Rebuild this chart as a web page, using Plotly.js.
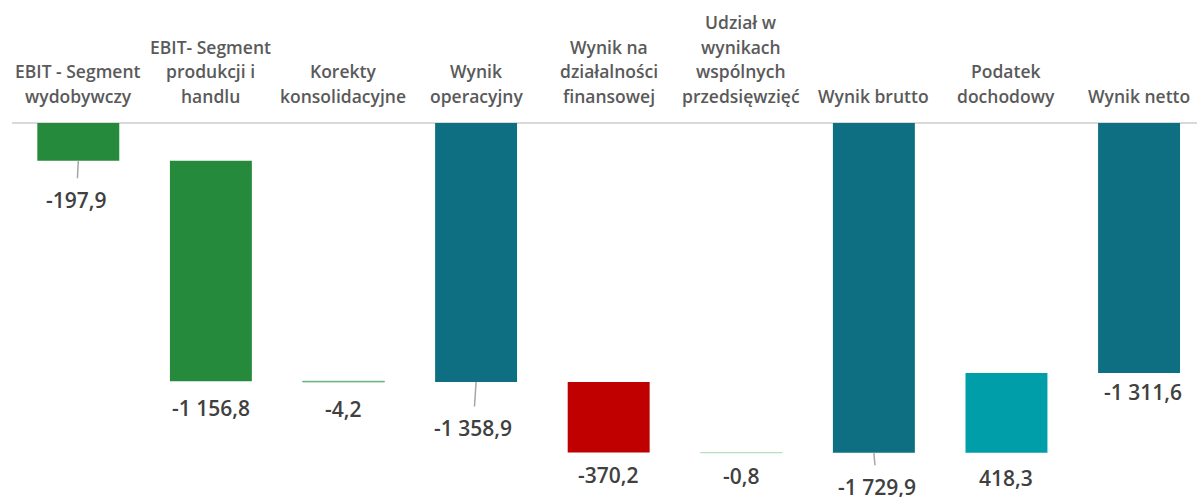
<!DOCTYPE html>
<html>
<head>
<meta charset="utf-8">
<script src="https://cdn.plot.ly/plotly-3.0.1.min.js"></script>
<style>html,body{margin:0;padding:0;background:#fff;}#chart{width:1197px;height:497px;}</style>
</head>
<body>
<div id="chart"></div>
<script>
// ---- data ----
const categories = [
  "EBIT - Segment<br>wydobywczy",
  "EBIT- Segment<br>produkcji i<br>handlu",
  "Korekty<br>konsolidacyjne",
  "Wynik<br>operacyjny",
  "Wynik na<br>działalności<br>finansowej",
  "Udział w<br>wynikach<br>wspólnych<br>przedsięwzięć",
  "Wynik brutto",
  "Podatek<br>dochodowy",
  "Wynik netto"
];
const values = [-197.9, -1156.8, -4.2, -1358.9, -370.2, -0.8, -1729.9, 418.3, -1311.6];
const measures = ["relative","relative","relative","total","relative","relative","total","relative","total"];

// ---- styles ----
const barColors = ["#268a3c","#268a3c","#268a3c","#0e6f82","#c00000","#268a3c","#0e6f82","#009ea8","#0e6f82"];
const barLineColors = ["#268a3c","#268a3c","#7ab888","#0e6f82","#c00000","#b9ddbf","#0e6f82","#009ea8","#0e6f82"];
const barLineWidths = [0,0,0.8,0,0,0.8,0,0,0];
const leader = [true,false,false,true,false,false,true,false,false];
const labelDrop = [39,27,27,46,22,23,34,25,19];
const labelDx = [-2,0,0,-3,0,0,3,0,4];
const catLineGap = 24.5;   // px between category label lines
const catBottom = 27.5;    // px from zero line to centre of the last label line

// ---- build waterfall geometry from values ----
const bases = [], heights = [];
let run = 0;
values.forEach((v,i) => {
  if (measures[i] === "total") { bases.push(0); heights.push(v); run = v; }
  else { bases.push(run); heights.push(v); run += v; }
});
const lows = bases.map((b,i) => Math.min(b, b + heights[i]));

function fmt(v){
  const s = Math.abs(v).toFixed(1).split(".");
  const int = s[0].replace(/\B(?=(\d{3})+(?!\d))/g, " ");
  return (v < 0 ? "-" : "") + int + "," + s[1];
}

const trace = {
  type: "bar",
  x: categories,
  y: heights,
  base: bases,
  marker: { color: barColors, line: { width: barLineWidths, color: barLineColors } },
  hoverinfo: "skip",
  cliponaxis: false
};

const labelFont = { family: "Segoe UI, Open Sans, sans-serif", size: 21, weight: 600, color: "#404040" };
const catFont = { family: "Segoe UI, Open Sans, sans-serif", size: 17.5, weight: 600, color: "#5a5a5a" };

const annotations = [];
categories.forEach((c,i) => {
  const lines = c.split("<br>");
  const n = lines.length;
  lines.forEach((ln,k) => {
    annotations.push({
      x: c, y: 0, xref: "x", yref: "y",
      text: ln, showarrow: false, xanchor: "center", yanchor: "middle",
      yshift: catBottom + (n - 1 - k) * catLineGap, font: catFont
    });
  });
  if (leader[i]) {
    annotations.push({
      x: c, y: lows[i], xref: "x", yref: "y",
      text: fmt(values[i]), showarrow: true, arrowhead: 0, arrowwidth: 1.5,
      arrowcolor: "#a6a6a6", ax: labelDx[i], ay: labelDrop[i], standoff: 0,
      borderpad: 7, font: labelFont
    });
  } else {
    annotations.push({
      x: c, y: lows[i], xref: "x", yref: "y",
      text: fmt(values[i]), showarrow: false, xanchor: "center", yanchor: "middle",
      xshift: labelDx[i], yshift: -labelDrop[i], font: labelFont
    });
  }
});

const layout = {
  width: 1197, height: 497,
  margin: { l: 12, r: 0, t: 100, b: 0 },
  paper_bgcolor: "#ffffff", plot_bgcolor: "#ffffff",
  showlegend: false,
  bargap: 0.382,
  xaxis: { type: "category", range: [-0.5, 8.437], showgrid: false, zeroline: false,
           showticklabels: false, showline: false, ticks: "" },
  yaxis: { range: [-1962, 120.7], showgrid: false, zeroline: false, showticklabels: false,
           showline: false, ticks: "" },
  shapes: [{ type: "line", xref: "paper", yref: "y", x0: 0, x1: 1, y0: 0, y1: 0,
             line: { color: "#d9d9d9", width: 2 }, layer: "below" }],
  annotations: annotations
};

Plotly.newPlot("chart", [trace], layout, { displayModeBar: false, staticPlot: true });
</script>
</body>
</html>
